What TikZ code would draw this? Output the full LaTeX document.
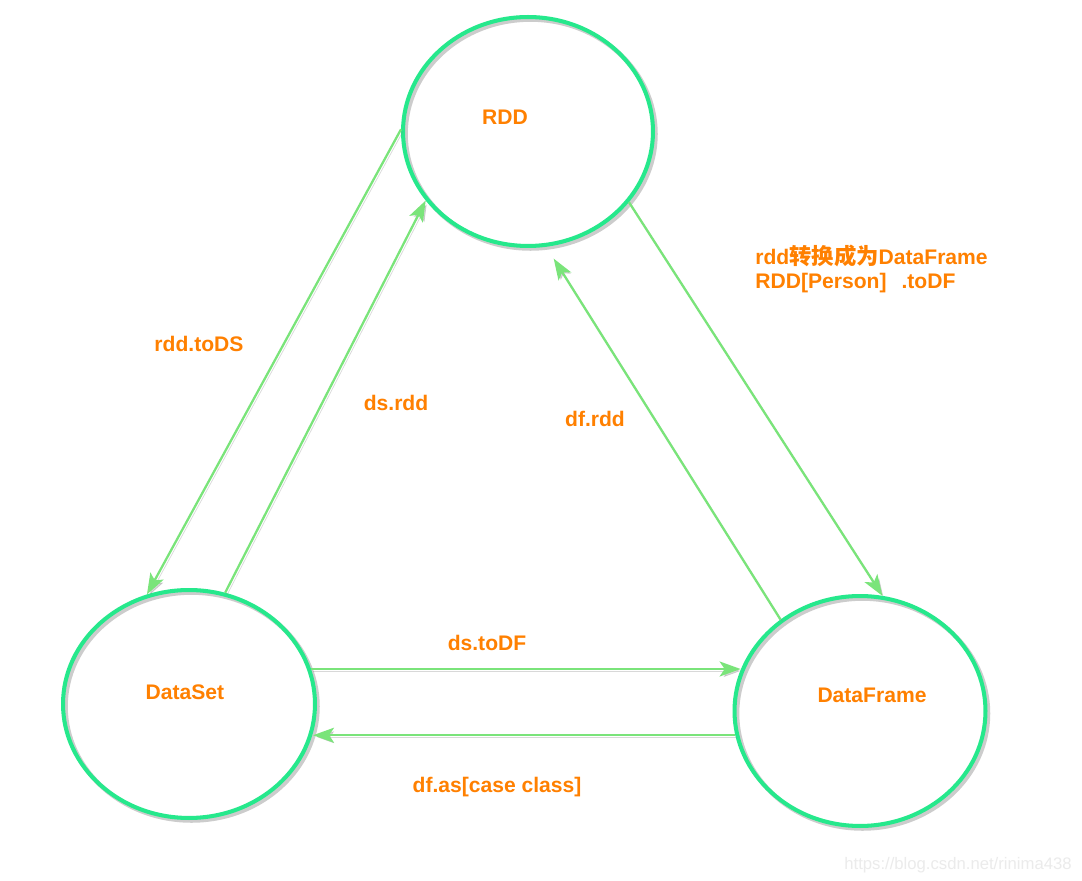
\documentclass[tikz,border=0pt]{standalone}
\usepackage{fontspec}
\setmainfont{Liberation Sans}
\newfontfamily\cjk{Noto Sans CJK SC}[Scale=1.06]
\usepackage{tikz}
\usetikzlibrary{shapes,arrows.meta,positioning,calc}
\usepackage{xcolor}
\definecolor{ringgreen}{RGB}{38,232,140}
\definecolor{arrowgreen}{RGB}{122,228,122}
\definecolor{txtorange}{RGB}{255,128,0}

\begin{document}
\begin{tikzpicture}[
    x=0.02cm, y=-0.02cm,
    ring/.style={ellipse, draw=ringgreen, line width=2.3pt, inner sep=0pt,
                 preaction={draw=black!50, line width=2.6pt, opacity=0.4,
                            transform canvas={shift={(0.05cm,-0.05cm)}}}},
    flow/.style={-{Stealth[length=0.42cm, width=0.3cm, inset=0.1cm]},
                 draw=arrowgreen, fill=arrowgreen, line width=1.3pt,
                 preaction={draw=black!50, opacity=0.3,
                            transform canvas={shift={(0.04cm,-0.04cm)}}}},
    lbl/.style={text=txtorange, font=\fontsize{12}{14}\selectfont\bfseries,
                inner sep=0pt, anchor=base},
]

% page
\fill[white] (0,0) rectangle (1082,881);
\useasboundingbox (0,0) rectangle (1082,881);

% The three data abstractions
\node[ring, minimum width=5.0cm, minimum height=4.58cm] (rdd) at (528,131.5) {};
\node[ring, minimum width=5.04cm, minimum height=4.56cm] (ds) at (189,704) {};
\node[ring, minimum width=5.02cm, minimum height=4.6cm] (df) at (860,711) {};

\node[lbl] (rddname) at (505,125) {RDD};
\node[lbl] (dsname) at (185,699) {DataSet};
\node[lbl] (dfname) at (872,702) {DataFrame};

% Conversions
\draw[flow] (rdd.179) -- (ds.111);
\draw[flow] (ds.72) -- (rdd.214);
\draw[flow] (rdd.325) -- (df.79);
\draw[flow, shorten >=0.28cm] (df.131) -- (rdd.279);
\draw[flow] (ds.16) -- (ds.16 -| df.161);
\draw[flow] (df.191) -- (df.191 -| ds.347);

% Conversion labels
\node[lbl] (todstxt) at (199,352) {rdd.toDS};
\node[lbl] (dsrddtxt) at (396,411) {ds.rdd};
\node[lbl] (dfrddtxt) at (595,427) {df.rdd};
\node[lbl] (todftxt) at (487,650) {ds.toDF};
\node[lbl] (dfastxt) at (497,792) {df.as[case class]};
\node[lbl, anchor=base west] (convtxt) at (755,265) {rdd{\cjk 转换成为}DataFrame};
\node[lbl, anchor=base west] (convcode) at (755,289) {RDD[Person]\hspace{0.3cm}.toDF};

% watermark
\node[font=\fontsize{9.5}{11}\selectfont, text=black!8, anchor=base east,
      inner sep=0pt] (wmark) at (1072,869) {https://blog.csdn.net/rinima438};

\end{tikzpicture}
\end{document}
